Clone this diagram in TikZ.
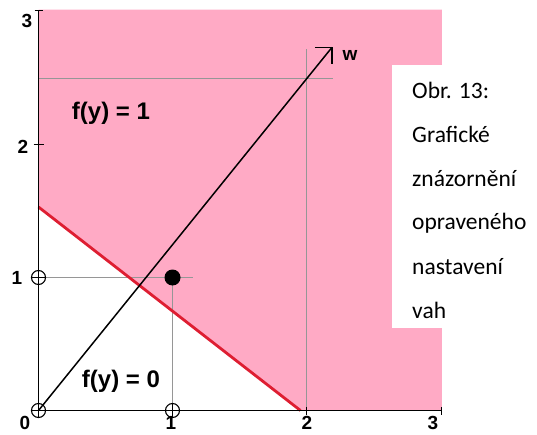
\documentclass[tikz,border=0pt]{standalone}
\usepackage{fontspec}
\setmainfont{Liberation Sans}
\newfontfamily\capfont{Carlito}
\definecolor{pinkfill}{RGB}{255,170,197}
\definecolor{redline}{RGB}{222,30,50}
\definecolor{gridgray}{RGB}{150,150,150}
\begin{document}
\begin{tikzpicture}[x=134pt,y=133pt,
  axis/.style={line width=1.7pt},
  guide/.style={draw=gridgray, line width=0.7pt},
  lbl/.style={font=\fontsize{19}{19}\selectfont\bfseries, inner sep=0},
  flbl/.style={font=\fontsize{24}{24}\selectfont\bfseries, inner sep=0},
  ptopen/.style={circle, draw, line width=1.1pt, minimum size=14pt, inner sep=0,
    path picture={\draw[line width=1.1pt] (path picture bounding box.north) -- (path picture bounding box.south)
      (path picture bounding box.west) -- (path picture bounding box.east);}},
  ptfull/.style={circle, fill, minimum size=16pt, inner sep=0},
  capline/.style={anchor=base west, font=\capfont\fontsize{23.5}{23.5}\selectfont, inner sep=0}]
\useasboundingbox (-38.5pt,-23.5pt) rectangle (498.5pt,410.5pt);
% pink half-plane
\fill[pinkfill] (0,1.53) -- (0,3.015) -- (3.01,3.015) -- (3.01,0) -- (1.955,0) -- cycle;
% coordinates
\coordinate (o) at (0,0);
\coordinate (ytop) at (0,3.01);
\coordinate (xend) at (3.01,0);
\coordinate (y1) at (0,1);
\coordinate (x1) at (1,0);
\coordinate (g1h) at (1.15,1);
\coordinate (p11c) at (1,1);
\coordinate (y25) at (0,2.5);
\coordinate (g25h) at (2.2,2.5);
\coordinate (x2) at (2,0);
\coordinate (g2v) at (2,2.72);
\coordinate (r1) at (0,1.53);
\coordinate (r2) at (1.955,0);
\coordinate (w) at (2.19,2.73);
% guide lines
\draw[guide] (y1) -- (g1h);
\draw[guide] (x1) -- (p11c);
\draw[guide] (y25) -- (g25h);
\draw[guide] (x2) -- (g2v);
% separating line
\draw[redline, line width=2.8pt] (r1) -- (r2);
% weight vector
\draw[line width=1.5pt] (o) -- (w);
\draw[line width=1.5pt] ([xshift=-17pt]w) -- (w) -- ([yshift=-17pt]w);
% axes
\draw[axis] (o) -- (ytop);
\draw[axis] (o) -- (xend);
\draw[line width=1.2pt] ([xshift=-4pt]ytop) -- ([xshift=4pt]ytop);
\draw[line width=1.2pt] (-5pt,266pt) -- (5pt,266pt);
\draw[line width=1.2pt] ([yshift=-4pt]x2) -- ([yshift=4pt]x2);
\draw[line width=1.2pt] ([yshift=-4pt]xend) -- ([yshift=4pt]xend);
% points
\node[ptopen] (p00) at (0,0) {};
\node[ptopen] (p01) at (0,1) {};
\node[ptopen] (p10) at (1,0) {};
\node[ptfull] (p11) at (1,1) {};
% axis labels
\node[lbl] (ly3) at (-11.5pt,389.5pt) {3};
\node[lbl] (ly2) at (-15.5pt,263.5pt) {2};
\node[lbl] (ly1) at (-21.5pt,132.5pt) {1};
\node[lbl] (l0) at (-13.5pt,-12.5pt) {0};
\node[lbl] (lx1) at (132.5pt,-12.5pt) {1};
\node[lbl] (lx2) at (268.5pt,-12.5pt) {2};
\node[lbl] (lx3) at (394.5pt,-12.5pt) {3};
% region labels
\node[flbl] (f1) at (72.5pt,297.5pt) {f(y) = 1};
\node[flbl] (f0) at (82.5pt,29.5pt) {f(y) = 0};
\node[lbl] (lw) at (311.5pt,355pt) {w};
% caption
\fill[white] (353.5pt,82.5pt) rectangle (498.5pt,345.5pt);
\node[capline] (c1) at (373.5pt,311.5pt) {Obr. 13:};
\node[capline] (c2) at (373.5pt,267.5pt) {Grafické};
\node[capline] (c3) at (373.5pt,223.5pt) {znázornění};
\node[capline] (c4) at (373.5pt,180.5pt) {opraveného};
\node[capline] (c5) at (373.5pt,136.5pt) {nastavení};
\node[capline] (c6) at (373.5pt,92.5pt) {vah};
\end{tikzpicture}
\end{document}
